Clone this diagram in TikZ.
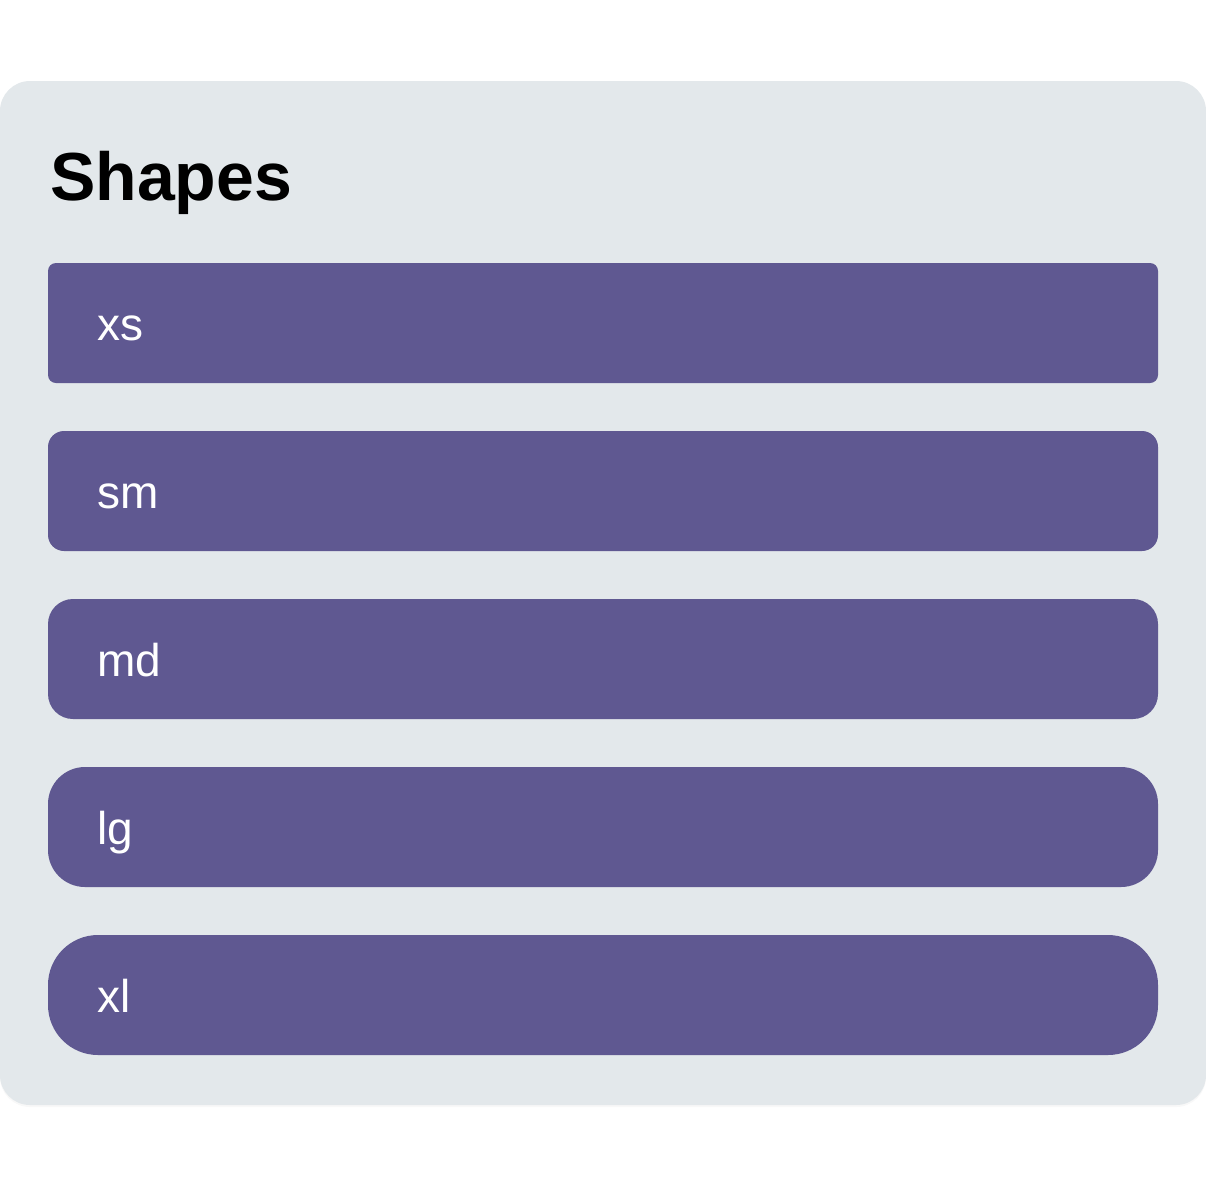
\documentclass[tikz,border=0pt]{standalone}
\usepackage{fontspec}
\setmainfont{Liberation Sans}
\usepackage{xcolor}
\usepackage{tikz}
\usetikzlibrary{positioning, shadows}
\definecolor{panelGray}{RGB}{227, 232, 235}
\definecolor{barPurple}{RGB}{95, 88, 145}

\begin{document}
\begin{tikzpicture}[
        x=1pt, y=1pt,
        panel/.style={rectangle, rounded corners=30pt, fill=panelGray, minimum width=1206pt,
            minimum height=1024pt, inner sep=0pt,
            drop shadow={opacity=0.06, shadow xshift=0pt, shadow yshift=-2pt}},
        bar/.style={rectangle, rounded corners=#1, fill=barPurple, minimum width=1110pt,
            minimum height=120pt, inner xsep=49pt, inner ysep=0pt, text width=1012pt, align=left,
            text height=34pt, text depth=0pt, text=white, font=\fontsize{46}{54}\selectfont},
        ttl/.style={anchor=base west, inner sep=0pt, font=\fontsize{68}{82}\selectfont\bfseries}
    ]
    \useasboundingbox (0,0) rectangle (1206,-1184);
    \node[panel] (card) at (603,-593) {};
    \node[ttl] (title) at (50,-200) {Shapes};
    \node[bar=8pt]  (xs) at (603,-323) {xs};
    \node[bar=16pt] (sm) at (603,-491) {sm};
    \node[bar=25pt] (md) at (603,-659) {md};
    \node[bar=37pt] (lg) at (603,-827) {lg};
    \node[bar=50pt] (xl) at (603,-995) {xl};
\end{tikzpicture}
\end{document}
